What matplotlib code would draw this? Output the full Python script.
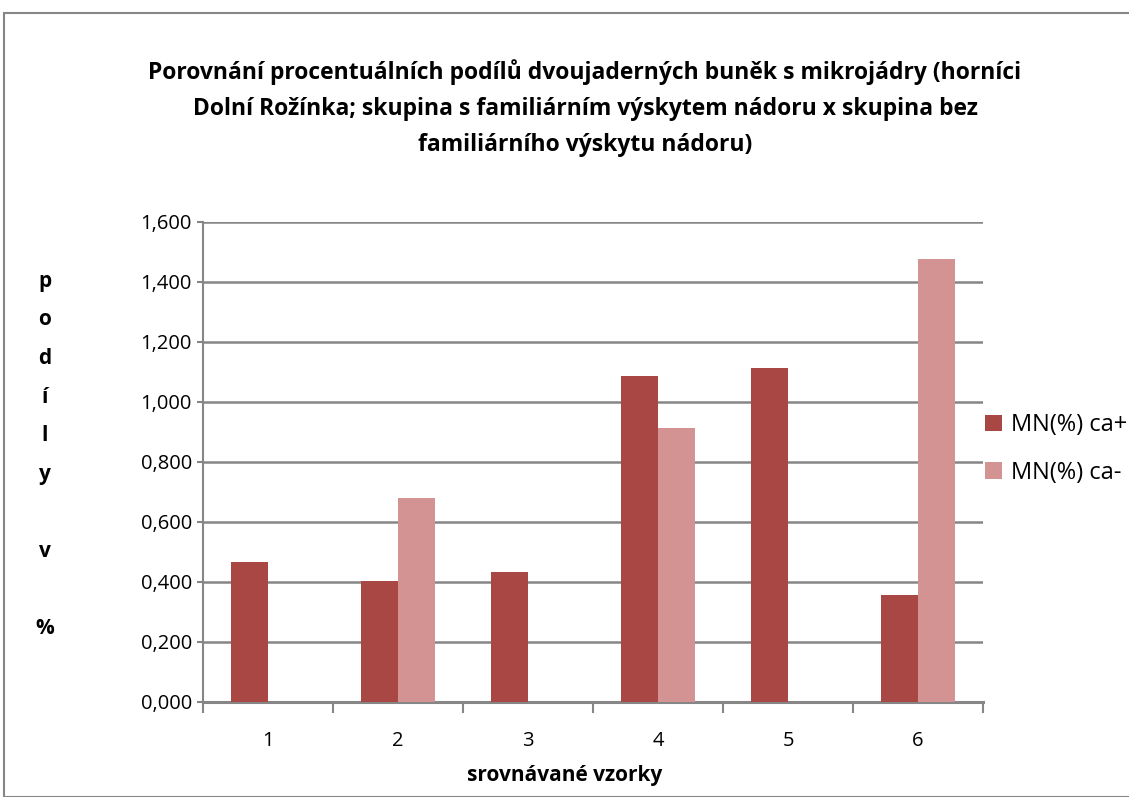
import matplotlib
matplotlib.use("Agg")
import matplotlib.pyplot as plt
import numpy as np
from matplotlib.patches import Rectangle
from matplotlib.ticker import FuncFormatter

categories = ["1", "2", "3", "4", "5", "6"]
mn_ca_plus = [0.468, 0.402, 0.435, 1.087, 1.114, 0.358]
mn_ca_minus = [0.0, 0.681, 0.0, 0.914, 0.0, 1.476]
series_labels = ["MN(%) ca+", "MN(%) ca-"]
title = ("Porovnání procentuálních podílů dvoujaderných buněk s mikrojádry (horníci\n"
         "Dolní Rožínka; skupina s familiárním výskytem nádoru x skupina bez\n"
         "familiárního výskytu nádoru)")
x_label = "srovnávané vzorky"
y_label = "p\no\nd\ní\nl\ny\n\nv\n\n%"

plt.rcParams['font.family'] = ['Open Sans', 'DejaVu Sans']

W, H = 1129, 797
fig = plt.figure(figsize=(W / 100, H / 100), dpi=100)

# outer chart frame
fig.patches.append(Rectangle((4 / W, 0), 1.2, 1 - 13 / H, transform=fig.transFigure,
                             fill=False, edgecolor='#868686', linewidth=1.5))

ax_l, ax_r, ax_t, ax_b = 203, 983, 222, 702
ax = fig.add_axes([ax_l / W, 1 - ax_b / H, (ax_r - ax_l) / W, (ax_b - ax_t) / H])

grid_c = '#868686'
x = np.arange(len(categories))
bw = 0.285
ax.bar(x - bw / 2, mn_ca_plus, bw, color='#A94745', label=series_labels[0], zorder=3)
ax.bar(x + bw / 2, mn_ca_minus, bw, color='#D39392', label=series_labels[1], zorder=3)

ax.set_xlim(-0.5, len(categories) - 0.5)
ax.set_ylim(0, 1.6)
ax.set_yticks(np.arange(0, 1.61, 0.2))
ax.yaxis.set_major_formatter(FuncFormatter(lambda v, p: f"{v:.3f}".replace('.', ',')))
ax.grid(axis='y', color=grid_c, linewidth=1.8, zorder=0)

ax.set_xticks(x)
ax.set_xticklabels(categories)
ax.set_xticks(np.arange(-0.5, len(categories)), minor=True)
ax.tick_params(axis='x', which='major', length=0, pad=21, labelsize=14.5)
ax.tick_params(axis='x', which='minor', length=8, width=1.5, color=grid_c, direction='out')
ax.tick_params(axis='y', length=4, width=1.5, color=grid_c, labelsize=14.5, pad=4)

for s in ['top', 'right']:
    ax.spines[s].set_visible(False)
ax.spines['left'].set_color(grid_c)
ax.spines['left'].set_linewidth(1.5)
ax.spines['bottom'].set_color(grid_c)
ax.spines['bottom'].set_linewidth(2.2)

fig.text(585 / W, 1 - 108 / H, title, ha='center', va='center', fontsize=16.5,
         fontweight='bold', linespacing=1.65)
fig.text(565 / W, 1 - 775 / H, x_label, ha='center', va='center', fontsize=15,
         fontweight='bold')
fig.text(45 / W, 1 - 455 / H, y_label, ha='center', va='center', fontsize=15,
         fontweight='bold', linespacing=2.1)

ax.legend(loc='center left', bbox_to_anchor=(985 / W, 1 - 449 / H),
          bbox_transform=fig.transFigure, frameon=False, fontsize=17,
          handlelength=0.7, handleheight=0.7, handletextpad=0.4,
          labelspacing=1.0, borderaxespad=0, borderpad=0)

fig.savefig("out.png", dpi=100)
